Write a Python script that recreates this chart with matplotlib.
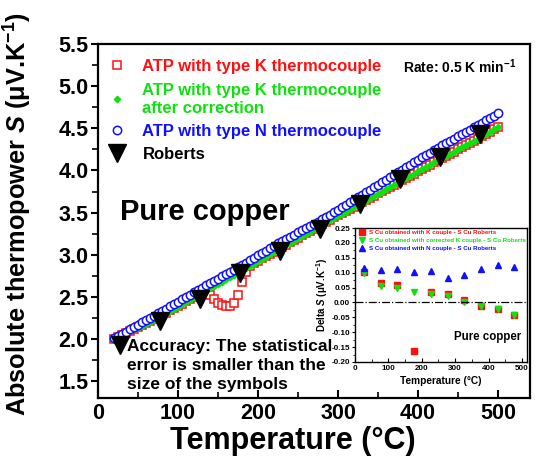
import numpy as np
import matplotlib
matplotlib.use("Agg")
import matplotlib.pyplot as plt
from matplotlib.ticker import MultipleLocator, FormatStrFormatter

plt.rcParams['font.family'] = ['Liberation Sans', 'DejaVu Sans']
plt.rcParams['font.weight'] = 'bold'
plt.rcParams['mathtext.fontset'] = 'custom'
plt.rcParams['mathtext.it'] = 'Liberation Sans:italic:bold'
plt.rcParams['mathtext.rm'] = 'Liberation Sans:bold'
plt.rcParams['mathtext.default'] = 'regular'

# ---------------- data ----------------
T = [20, 25, 30, 35, 40, 45, 50, 55, 60, 65, 70, 75, 80, 85, 90, 95, 100,
     105, 110, 115, 120, 125, 130, 135, 140, 145, 150, 155, 160, 165, 170,
     175, 180, 185, 190, 195, 200, 205, 210, 215, 220, 225, 230, 235, 240,
     245, 250, 255, 260, 265, 270, 275, 280, 285, 290, 295, 300, 305, 310,
     315, 320, 325, 330, 335, 340, 345, 350, 355, 360, 365, 370, 375, 380,
     385, 390, 395, 400, 405, 410, 415, 420, 425, 430, 435, 440, 445, 450,
     455, 460, 465, 470, 475, 480, 485, 490, 495, 500]

S_K = [1.995, 2.022, 2.048, 2.071, 2.095, 2.118, 2.142, 2.164, 2.188, 2.212,
       2.236, 2.259, 2.286, 2.312, 2.340, 2.366, 2.394, 2.420, 2.447, 2.474,
       2.501, 2.528, 2.555, 2.570, 2.520, 2.470, 2.430, 2.400, 2.390, 2.395,
       2.430, 2.520, 2.680, 2.800, 2.870, 2.904, 2.930, 2.957, 2.984, 3.011,
       3.038, 3.064, 3.092, 3.119, 3.146, 3.174, 3.201, 3.229, 3.256, 3.283,
       3.311, 3.338, 3.365, 3.391, 3.417, 3.443, 3.469, 3.495, 3.520, 3.546,
       3.572, 3.598, 3.624, 3.650, 3.676, 3.702, 3.728, 3.754, 3.780, 3.806,
       3.832, 3.858, 3.884, 3.910, 3.937, 3.963, 3.990, 4.016, 4.043, 4.069,
       4.096, 4.122, 4.148, 4.173, 4.199, 4.224, 4.249, 4.274, 4.300, 4.325,
       4.351, 4.377, 4.405, 4.432, 4.460, 4.487, 4.515]

S_Kcorr = [1.992, 2.019, 2.044, 2.067, 2.090, 2.113, 2.136, 2.159, 2.182, 2.205,
           2.228, 2.251, 2.277, 2.303, 2.331, 2.357, 2.385, 2.411, 2.439, 2.465,
           2.493, 2.519, 2.546, 2.573, 2.600, 2.627, 2.653, 2.679, 2.706, 2.732,
           2.759, 2.785, 2.812, 2.840, 2.867, 2.894, 2.922, 2.949, 2.977, 3.004,
           3.031, 3.059, 3.086, 3.113, 3.140, 3.167, 3.194, 3.221, 3.248, 3.275,
           3.302, 3.329, 3.356, 3.382, 3.408, 3.434, 3.460, 3.486, 3.512, 3.538,
           3.564, 3.590, 3.617, 3.643, 3.670, 3.697, 3.723, 3.750, 3.777, 3.804,
           3.831, 3.858, 3.884, 3.910, 3.937, 3.963, 3.990, 4.016, 4.043, 4.069,
           4.096, 4.122, 4.148, 4.173, 4.199, 4.224, 4.249, 4.274, 4.300, 4.325,
           4.351, 4.377, 4.405, 4.432, 4.460, 4.487, 4.515]

S_N = [2.007, 2.034, 2.062, 2.088, 2.115, 2.142, 2.169, 2.196, 2.223, 2.249,
       2.277, 2.303, 2.331, 2.359, 2.387, 2.414, 2.443, 2.470, 2.498, 2.525,
       2.554, 2.581, 2.608, 2.635, 2.662, 2.689, 2.716, 2.743, 2.770, 2.797,
       2.824, 2.850, 2.878, 2.907, 2.935, 2.964, 2.992, 3.021, 3.049, 3.078,
       3.106, 3.135, 3.162, 3.187, 3.213, 3.238, 3.264, 3.290, 3.315, 3.341,
       3.366, 3.392, 3.420, 3.448, 3.477, 3.506, 3.535, 3.564, 3.593, 3.622,
       3.651, 3.680, 3.709, 3.739, 3.769, 3.800, 3.830, 3.860, 3.890, 3.920,
       3.950, 3.980, 4.010, 4.038, 4.068, 4.096, 4.125, 4.154, 4.183, 4.212,
       4.241, 4.269, 4.298, 4.324, 4.351, 4.378, 4.405, 4.432, 4.459, 4.485,
       4.513, 4.539, 4.567, 4.594, 4.622, 4.649, 4.677]

T_rob = [27, 77, 127, 177, 227, 277, 327, 377, 427, 477]
S_rob = [1.93, 2.21, 2.48, 2.78, 3.04, 3.31, 3.60, 3.90, 4.16, 4.43]

# inset: differences to Roberts
dS_K = [0.103, 0.064, 0.059, -0.162, 0.035, 0.029, 0.008, -0.012, -0.023, -0.042]
dS_Kcorr = [0.100, 0.055, 0.050, 0.036, 0.030, 0.020, 0.000, -0.012, -0.023, -0.042]
dS_N = [0.115, 0.109, 0.112, 0.101, 0.106, 0.082, 0.091, 0.112, 0.126, 0.120]

RED = '#ff1010'
GREEN = '#10e010'
BLUE = '#1010ff'

fig = plt.figure(figsize=(5.37, 4.70), dpi=100)
ax = fig.add_axes([98/537, 1-398/470, 432/537, 354/470])

ax.plot(T, S_K, linestyle='none', marker='s', ms=6, mfc='white', mec=RED, mew=1.1,
        label='ATP with type K thermocouple')
ax.plot(T, S_Kcorr, linestyle='none', marker='D', ms=3.4, mfc=GREEN, mec=GREEN, mew=0.8,
        label='ATP with type K thermocouple\nafter correction')
ax.plot(T, S_N, linestyle='none', marker='o', ms=6, mfc='white', mec=BLUE, mew=1.1,
        label='ATP with type N thermocouple')
ax.plot(T_rob, S_rob, linestyle='none', marker='v', ms=13, mfc='black', mec='black',
        label='Roberts')

ax.set_xlim(0, 540)
ax.set_ylim(1.3, 5.5)
ax.xaxis.set_major_locator(MultipleLocator(100))
ax.xaxis.set_minor_locator(MultipleLocator(50))
ax.yaxis.set_major_locator(MultipleLocator(0.5))
ax.yaxis.set_minor_locator(MultipleLocator(0.25))
ax.yaxis.set_major_formatter(FormatStrFormatter('%.1f'))
for s in ax.spines.values():
    s.set_linewidth(1.6)
ax.tick_params(axis='x', which='major', direction='in', length=6, width=1.5,
               labelsize=15.5, pad=3.5)
ax.tick_params(axis='x', which='minor', direction='in', length=4, width=1.2)
ax.tick_params(axis='y', which='major', direction='out', length=5, width=1.5,
               labelsize=15.5, pad=2)
ax.tick_params(axis='y', which='minor', direction='out', length=4, width=1.2)

ax.set_xlabel('Temperature (°C)', fontsize=22, fontweight='bold')
ax.xaxis.set_label_coords(0.45, -0.08)
ax.set_ylabel('Absolute thermopower $\\mathit{S}$ (μV.K$^{-1}$)', fontsize=18.3,
              fontweight='bold')
ax.yaxis.set_label_coords(-0.148, 0.52)

leg = ax.legend(loc='upper left', bbox_to_anchor=(0.018, 0.957), frameon=False,
                fontsize=12, labelcolor='markeredgecolor', handlelength=1.3,
                handletextpad=0.9, labelspacing=0.5, borderaxespad=0, borderpad=0,
                numpoints=1)
for t in leg.get_texts():
    t.set_fontweight('bold')
    t.set_linespacing(1.25)

ax.text(0.706, 0.935, 'Rate: 0.5 K min$^{-1}$', transform=ax.transAxes, fontsize=10,
        fontweight='bold', va='center', ha='left')
ax.text(0.05, 0.525, 'Pure copper', transform=ax.transAxes, fontsize=21,
        fontweight='bold', va='center', ha='left')
ax.text(0.066, 0.092, 'Accuracy: The statistical\nerror is smaller than the\nsize of the symbols',
        transform=ax.transAxes, fontsize=12.5, fontweight='bold', va='center', ha='left',
        linespacing=1.3)

# ---------------- inset ----------------
axin = fig.add_axes([355/537, 1-362/470, 172/537, 134/470])
axin.plot(T_rob, dS_K, linestyle='none', marker='s', ms=4.3, mfc=RED, mec=RED,
          label='S Cu obtained with K couple - S Cu Roberts')
axin.plot(T_rob, dS_Kcorr, linestyle='none', marker='v', ms=4.3, mfc=GREEN, mec=GREEN,
          label='S Cu obtained with corrected K couple - S Cu Roberts')
axin.plot(T_rob, dS_N, linestyle='none', marker='^', ms=4.8, mfc=BLUE, mec=BLUE,
          label='S Cu obtained with N couple - S Cu Roberts')
axin.axhline(0, color='black', linestyle='-.', linewidth=0.9)
axin.set_xlim(0, 515)
axin.set_ylim(-0.20, 0.25)
axin.xaxis.set_major_locator(MultipleLocator(100))
axin.xaxis.set_minor_locator(MultipleLocator(50))
axin.yaxis.set_major_locator(MultipleLocator(0.05))
axin.yaxis.set_minor_locator(MultipleLocator(0.025))
axin.yaxis.set_major_formatter(FormatStrFormatter('%.2f'))
for s in axin.spines.values():
    s.set_linewidth(1.0)
axin.tick_params(axis='x', which='major', direction='in', length=3, width=0.8,
                 labelsize=5.8, pad=2.5)
axin.tick_params(axis='x', which='minor', direction='in', length=2, width=0.6)
axin.tick_params(axis='y', which='major', direction='out', length=2.5, width=0.8,
                 labelsize=5.8, pad=1)
axin.tick_params(axis='y', which='minor', direction='out', length=1.5, width=0.6)
for lab in axin.get_xticklabels() + axin.get_yticklabels():
    lab.set_fontweight('bold')
axin.set_xlabel('Temperature (°C)', fontsize=7.3, fontweight='bold', labelpad=2.5)
axin.set_ylabel('Delta $\\mathit{S}$ (μV.K$^{-1}$)', fontsize=7, fontweight='bold',
                labelpad=1)
leg2 = axin.legend(loc='upper left', bbox_to_anchor=(0.025, 0.985), frameon=False,
                   fontsize=4.4, labelcolor='markeredgecolor', handlelength=1.0,
                   handletextpad=0.6, labelspacing=0.45, borderaxespad=0, borderpad=0,
                   numpoints=1)
for t in leg2.get_texts():
    t.set_fontweight('bold')
axin.text(0.965, 0.19, 'Pure copper', transform=axin.transAxes, fontsize=8.3,
          fontweight='bold', ha='right', va='center')

fig.savefig('out.png', dpi=100)
